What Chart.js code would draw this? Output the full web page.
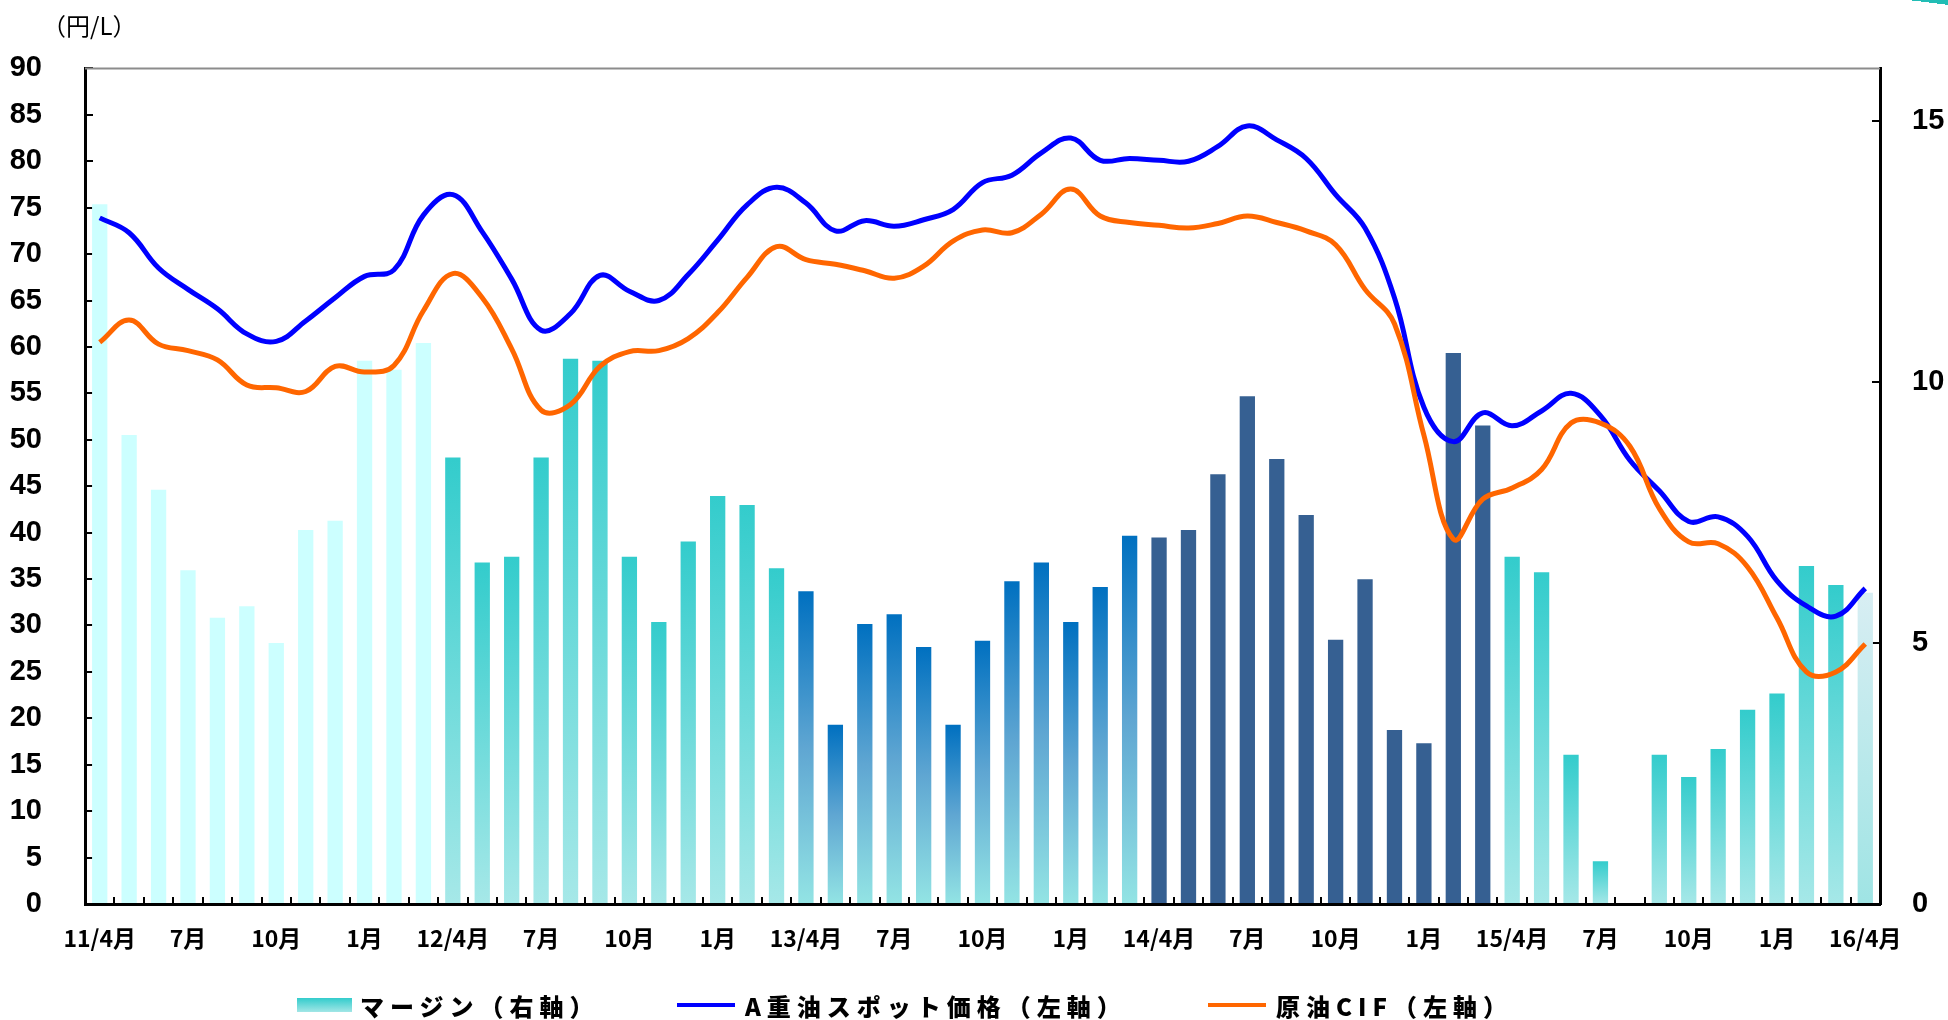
<!DOCTYPE html>
<html lang="ja">
<head>
<meta charset="utf-8">
<title>マージン・A重油スポット価格・原油CIF</title>
<script src="https://cdn.jsdelivr.net/npm/chart.js@4.4.1/dist/chart.umd.min.js"></script>
<style>
    html, body { margin: 0; padding: 0; background: #ffffff; }
    #wrap { position: relative; width: 1948px; height: 1020px; overflow: hidden; }
    #wrap canvas { position: absolute; left: 0; top: 0; }
    .unit {
        position: absolute; left: 42px; top: 7px;
        font-family: 'Noto Sans CJK JP', sans-serif; font-size: 24px; color: #000;
    }
    .legend {
        position: absolute; left: 0; top: 987px; width: 1948px; height: 36px;
        font-family: 'Noto Sans CJK JP', sans-serif; font-weight: 900; font-size: 24px;
        letter-spacing: 6px; color: #000;
    }
    .legend .item { position: absolute; top: 0; display: flex; align-items: center; height: 36px; white-space: nowrap; }
    .legend .box { width: 55px; height: 14px; margin-right: 8px; background: linear-gradient(#33cccc, #a2e6e6); }
    .legend .line { width: 58px; height: 4px; margin-right: 10px; }
    .corner {
        position: absolute; left: 1908px; top: -5px; width: 50px; height: 8px;
        background: #22bdb5; transform: rotate(7deg); border-radius: 4px;
    }
</style>
</head>
<body>
<div id="wrap">
    <canvas id="marginChart" width="1948" height="1020"></canvas>
    <div class="unit">（円/L）</div>
    <div class="corner"></div>
    <div class="legend">
        <div class="item" style="left:297px"><span class="box"></span>マージン（右軸）</div>
        <div class="item" style="left:677px"><span class="line" style="background:#0000ff"></span>A重油スポット価格（左軸）</div>
        <div class="item" style="left:1208px"><span class="line" style="background:#ff6600"></span>原油CIF（左軸）</div>
    </div>
</div>
<script>
// 月（2011年4月〜2016年4月）
const categories = [
    '11/4月', '5月', '6月', '7月', '8月', '9月', '10月', '11月', '12月', '1月', '2月', '3月',
    '12/4月', '5月', '6月', '7月', '8月', '9月', '10月', '11月', '12月', '1月', '2月', '3月',
    '13/4月', '5月', '6月', '7月', '8月', '9月', '10月', '11月', '12月', '1月', '2月', '3月',
    '14/4月', '5月', '6月', '7月', '8月', '9月', '10月', '11月', '12月', '1月', '2月', '3月',
    '15/4月', '5月', '6月', '7月', '8月', '9月', '10月', '11月', '12月', '1月', '2月', '3月',
    '16/4月'
];

// マージン（右軸, 円/L）
const marginValues = [
    13.40, 8.98, 7.93, 6.39, 5.48, 5.70, 5.00, 7.16, 7.34, 10.40, 10.23, 10.74,
    8.55, 6.54, 6.65, 8.55, 10.44, 10.40, 6.65, 5.40, 6.94, 7.81, 7.64, 6.43,
    5.99, 3.43, 5.36, 5.55, 4.92, 3.43, 5.04, 6.18, 6.54, 5.40, 6.07, 7.05,
    7.02, 7.16, 8.23, 9.72, 8.52, 7.45, 5.06, 6.22, 3.33, 3.08, 10.55, 9.16,
    6.65, 6.35, 2.86, 0.82, -0.05, 2.86, 2.43, 2.97, 3.72, 4.03, 6.47, 6.11,
    5.96
];

// A重油スポット価格（左軸, 円/L）
const spotValues = [
    73.9, 72.3, 68.5, 66.2, 64.1, 61.4, 60.6, 62.8, 65.3, 67.6, 68.3, 74.2,
    76.4, 72.4, 67.3, 61.8, 63.6, 67.7, 66.0, 65.0, 67.8, 71.5, 75.3, 77.2,
    75.5, 72.5, 73.6, 73.0, 73.7, 74.8, 77.7, 78.5, 80.9, 82.5, 80.1, 80.3,
    80.1, 80.0, 81.6, 83.8, 82.3, 80.3, 76.4, 72.8, 65.3, 53.5, 49.8, 52.9,
    51.5, 53.1, 55.0, 52.6, 47.8, 44.5, 41.2, 41.7, 39.6, 34.8, 32.1, 31.0,
    34.0
];

// 原油CIF（左軸, 円/L）
const cifValues = [
    60.5, 62.9, 60.3, 59.6, 58.6, 55.9, 55.6, 55.2, 57.9, 57.3, 58.0, 63.9,
    67.9, 65.3, 59.8, 53.2, 53.8, 57.9, 59.5, 59.6, 60.9, 63.7, 67.5, 70.8,
    69.4, 68.9, 68.2, 67.4, 68.7, 71.4, 72.6, 72.3, 74.3, 77.0, 74.1, 73.4,
    73.1, 72.8, 73.3, 74.1, 73.4, 72.5, 71.0, 66.2, 62.5, 50.5, 39.3, 43.6,
    44.8, 46.8, 51.8, 51.8, 49.3, 42.6, 39.0, 38.8, 36.3, 30.8, 25.0, 25.0,
    28.0
];

// 年度ごとの棒の色（上端 → 下端）
const fyStyles = [
    ['#ccffff', '#ccffff'],
    ['#33cccc', '#a6e8e8'],
    ['#0070c0', '#5fa6d2', '#93e4e4'],
    ['#366092', '#366092'],
    ['#33cccc', '#a6e8e8'],
    ['#d8eef3', '#9fe4e4']
];

const axisFont = "'Liberation Sans', Arial, sans-serif";
const jpFont = "'Noto Sans CJK JP', sans-serif";

function barColor(context) {
    const chart = context.chart;
    const stops = fyStyles[Math.floor(context.dataIndex / 12)];
    if (!chart.chartArea || !chart.scales.y1) return stops[0];
    const scale = chart.scales.y1;
    const top = scale.getPixelForValue(context.raw);
    const base = scale.getPixelForValue(0);
    if (Math.abs(base - top) < 1) return stops[0];
    const g = chart.ctx.createLinearGradient(0, top, 0, base);
    stops.forEach((c, i) => g.addColorStop(i / (stops.length - 1), c));
    return g;
}

// 上辺の枠線
const topBorder = {
    id: 'topBorder',
    afterDraw(chart) {
        const { ctx, chartArea } = chart;
        ctx.save();
        ctx.strokeStyle = '#8c8c8c';
        ctx.lineWidth = 2;
        ctx.beginPath();
        ctx.moveTo(chartArea.left, chartArea.top);
        ctx.lineTo(chartArea.right, chartArea.top);
        ctx.stroke();
        ctx.restore();
    }
};

new Chart(document.getElementById('marginChart'), {
    data: {
        labels: categories,
        datasets: [{
            type: 'line',
            label: 'A重油スポット価格（左軸）',
            data: spotValues,
            yAxisID: 'y',
            borderColor: '#0000ff',
            borderWidth: 5,
            pointRadius: 0,
            tension: 0.4,
            order: 1,
        }, {
            type: 'line',
            label: '原油CIF（左軸）',
            data: cifValues,
            yAxisID: 'y',
            borderColor: '#ff6600',
            borderWidth: 5,
            pointRadius: 0,
            tension: 0.4,
            order: 0,
        }, {
            type: 'bar',
            label: 'マージン（右軸）',
            data: marginValues,
            yAxisID: 'y1',
            backgroundColor: barColor,
            borderWidth: 0,
            categoryPercentage: 1,
            barPercentage: 0.52,
            order: 2,
        }]
    },
    options: {
        responsive: false,
        animation: false,
        devicePixelRatio: 1,
        layout: {
            padding: { left: 10, right: 0, top: 63, bottom: 0 }
        },
        plugins: {
            legend: { display: false },
            tooltip: { enabled: false },
        },
        scales: {
            x: {
                offset: true,
                grid: {
                    offset: true,
                    drawOnChartArea: false,
                    tickLength: -7,
                    color: '#000',
                    lineWidth: 2,
                },
                border: { color: '#000', width: 3 },
                ticks: {
                    autoSkip: false,
                    maxRotation: 0,
                    padding: 27,
                    color: '#000',
                    font: { family: jpFont, size: 23, weight: 'bold' },
                    callback: function(value, index) {
                        return index % 3 === 0 ? categories[index] : '';
                    }
                },
                afterFit(axis) { axis.height = 116; }
            },
            y: {
                position: 'left',
                min: 0,
                max: 90,
                grid: {
                    drawOnChartArea: false,
                    tickLength: -8,
                    color: '#000',
                    lineWidth: 2,
                },
                border: { color: '#000', width: 3 },
                ticks: {
                    stepSize: 5,
                    padding: 51,
                    color: '#000',
                    font: { family: axisFont, size: 29, weight: 'bold' },
                },
                afterFit(axis) { axis.width = 75; }
            },
            y1: {
                position: 'right',
                min: 0,
                max: 16,
                grid: {
                    drawOnChartArea: false,
                    tickLength: -8,
                    color: '#000',
                    lineWidth: 2,
                },
                border: { color: '#000', width: 3 },
                ticks: {
                    stepSize: 5,
                    padding: 40,
                    color: '#000',
                    font: { family: axisFont, size: 29, weight: 'bold' },
                },
                afterBuildTicks(axis) {
                    axis.ticks = axis.ticks.filter(t => t.value % 5 === 0);
                },
                afterFit(axis) { axis.width = 68; }
            }
        }
    },
    plugins: [topBorder]
});
</script>
</body>
</html>
